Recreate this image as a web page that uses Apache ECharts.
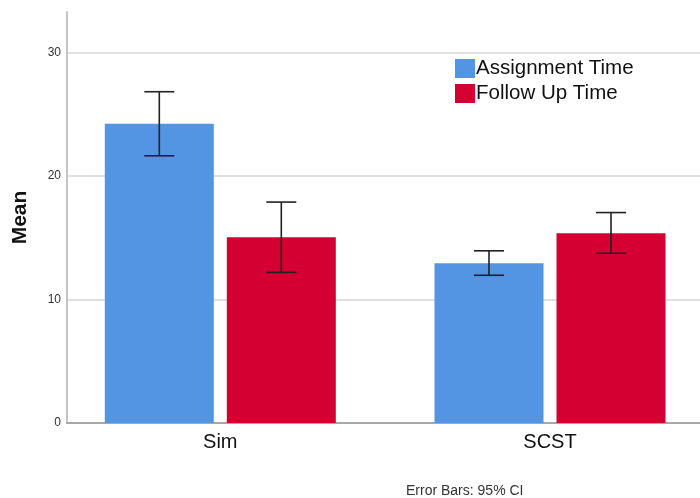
<!DOCTYPE html>
<html>
<head>
<meta charset="utf-8">
<script src="https://cdn.jsdelivr.net/npm/echarts@6/dist/echarts.min.js"></script>
<style>
  html, body { margin: 0; padding: 0; background: #fff; }
  #chart { width: 700px; height: 498px; }
</style>
</head>
<body>
<div id="chart"></div>
<script>
// data
const categories = ['Sim', 'SCST'];
const seriesNames = ['Assignment Time', 'Follow Up Time'];
const assignMean = [24.25, 12.95];
const assignLow = [21.65, 11.97];
const assignHigh = [26.84, 13.95];
const followMean = [15.05, 15.38];
const followLow = [12.2, 13.75];
const followHigh = [17.9, 17.05];
const yTicks = [0, 10, 20, 30];

const blue = '#5394E3';
const red = '#D50032';
const barWidth = 109;
const barGapPx = 13;
const capHalf = 15;

const chart = echarts.init(document.getElementById('chart'));

function barData(values) {
    return values.map((v, i) => [i, v]);
}
function ciData(lows, highs) {
    return lows.map((v, i) => [i, v, highs[i]]);
}
// draws one whisker; shift is the bar's pixel offset inside its group
function whisker(shift) {
    return function (params, api) {
        const lo = api.coord([api.value(0), api.value(1)]);
        const hi = api.coord([api.value(0), api.value(2)]);
        const x = lo[0] + shift;
        const style = { stroke: '#222', lineWidth: 1.6 };
        return {
            type: 'group',
            children: [
                { type: 'line', shape: { x1: x, y1: hi[1], x2: x, y2: lo[1] }, style: style },
                { type: 'line', shape: { x1: x - capHalf, y1: hi[1], x2: x + capHalf, y2: hi[1] }, style: style },
                { type: 'line', shape: { x1: x - capHalf, y1: lo[1], x2: x + capHalf, y2: lo[1] }, style: style }
            ]
        };
    };
}

const shift = (barWidth + barGapPx) / 2;

chart.setOption({
    animation: false,
    textStyle: { fontFamily: 'Liberation Sans, Arial, sans-serif' },
    grid: { left: 67, right: 0, top: 12, bottom: 75, outerBoundsMode: 'none', containLabel: false },
    legend: {
        left: 450,
        top: 53,
        orient: 'vertical',
        icon: 'rect',
        itemWidth: 20,
        itemHeight: 19,
        itemGap: 4,
        textStyle: { fontSize: 20.5, color: '#111', padding: [0, 0, 0, -4] },
        data: seriesNames
    },
    xAxis: {
        type: 'value',
        min: -0.465,
        max: 1.455,
        axisLine: { show: true, onZero: false, lineStyle: { color: '#a8a8a8', width: 2 } },
        axisTick: { show: false },
        splitLine: { show: false },
        axisLabel: {
            customValues: [0, 1],
            formatter: v => categories[Math.round(v)],
            fontSize: 20,
            color: '#111',
            margin: 9
        }
    },
    yAxis: {
        type: 'value',
        min: 0,
        max: 33.3,
        interval: 10,
        name: 'Mean',
        nameLocation: 'middle',
        nameRotate: 90,
        nameGap: 36,
        nameTextStyle: { fontSize: 21, fontWeight: 'bold', color: '#111' },
        axisLine: { show: true, onZero: false, lineStyle: { color: '#c4c4c4', width: 2 } },
        axisTick: { show: false },
        axisLabel: {
            customValues: yTicks,
            fontSize: 12,
            color: '#333',
            margin: 6
        },
        splitLine: { lineStyle: { color: ['#d6d6d6', '#d6d6d6', '#d6d6d6', '#d6d6d6', 'rgba(0,0,0,0)'], width: 1.5 } }
    },
    series: [
        {
            name: seriesNames[0],
            type: 'bar',
            barWidth: barWidth,
            barGap: (barGapPx / barWidth * 100) + '%',
            itemStyle: { color: blue },
            data: barData(assignMean)
        },
        {
            name: seriesNames[1],
            type: 'bar',
            barWidth: barWidth,
            itemStyle: { color: red },
            data: barData(followMean)
        },
        {
            type: 'custom',
            renderItem: whisker(-shift),
            encode: { x: 0, y: [1, 2] },
            z: 5,
            data: ciData(assignLow, assignHigh)
        },
        {
            type: 'custom',
            renderItem: whisker(shift),
            encode: { x: 0, y: [1, 2] },
            z: 5,
            data: ciData(followLow, followHigh)
        }
    ],
    graphic: [
        {
            type: 'text',
            left: 406,
            top: 484,
            style: { text: 'Error Bars: 95% CI', fontSize: 14, fill: '#333', fontFamily: 'Liberation Sans, Arial, sans-serif' }
        }
    ]
});
</script>
</body>
</html>
